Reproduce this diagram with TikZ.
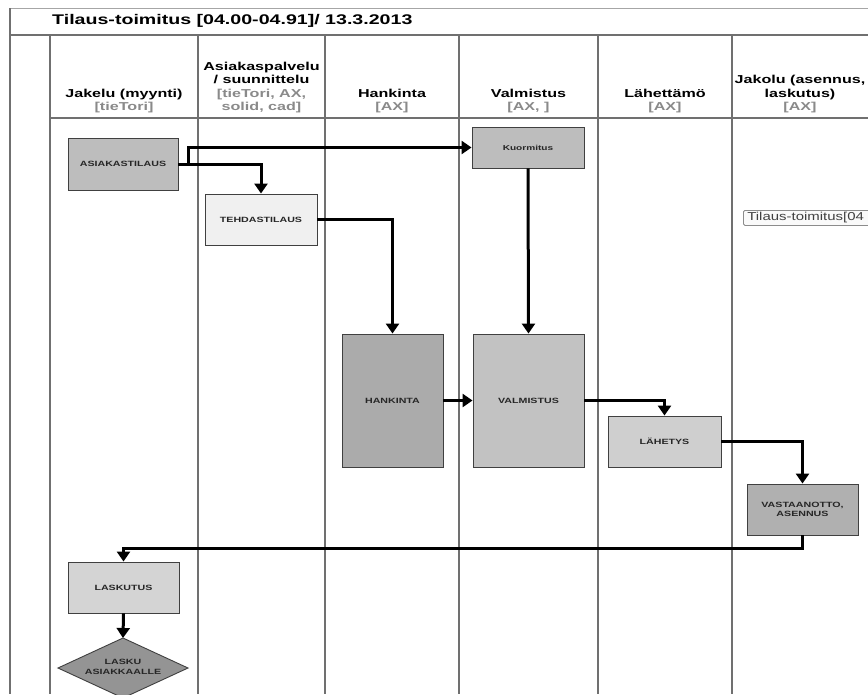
\documentclass[tikz,border=0pt]{standalone}
\usepackage{fontspec}
\setmainfont[FakeStretch=1.4]{Liberation Sans}
\newfontfamily\tipfont[FakeStretch=1.3]{Liberation Sans}
\usetikzlibrary{arrows.meta,shapes.geometric}
\definecolor{linegray}{HTML}{707070}
\definecolor{subgray}{HTML}{8A8A8A}
\begin{document}
\begin{tikzpicture}[x=1pt,y=-1pt,
  lane/.style={draw=linegray, line width=1.6pt},
  hdr/.style={font=\fontsize{11.5}{13.3}\selectfont\bfseries, align=center, anchor=south, inner sep=0pt},
  box/.style={draw=black!75, line width=0.9pt, font=\fontsize{7.6}{9}\selectfont\bfseries, text=black!85, align=center, inner sep=1pt},
  flow/.style={line width=3pt, -{Triangle[length=10pt,width=13pt]}}]
\useasboundingbox (0,0) rectangle (868,694);
\clip (0,0) rectangle (868,694);
\fill[white] (0,0) rectangle (868,694);
% frame
\draw[draw=black!35, line width=1pt] (10,8) -- (868,8);
\draw[lane] (10,35) -- (868,35);
\draw[lane] (10,8) -- (10,694);
\draw[lane] (50,118) -- (868,118);
\foreach \x in {50,198,325,459,598,732} \draw[lane] (\x,35) -- (\x,694);
% title
\node[anchor=west, font=\fontsize{14}{16}\selectfont\bfseries, inner sep=0pt] (title) at (52,20.5) {Tilaus-toimitus [04.00-04.91]/ 13.3.2013};
% headers
\node[hdr] (h1) at (124,113) {Jakelu (myynti)\\\textcolor{subgray}{[tieTori]}};
\node[hdr] (h2) at (261.5,113) {Asiakaspalvelu\\/ suunnittelu\\\textcolor{subgray}{[tieTori, AX,}\\\textcolor{subgray}{solid, cad]}};
\node[hdr] (h3) at (392,113) {Hankinta\\\textcolor{subgray}{[AX]}};
\node[hdr] (h4) at (528.5,113) {Valmistus\\\textcolor{subgray}{[AX, ]}};
\node[hdr] (h5) at (665,113) {Lähettämö\\\textcolor{subgray}{[AX]}};
\node[hdr] (h6) at (800,113) {Jakolu (asennus,\\laskutus)\\\textcolor{subgray}{[AX]}};
% process boxes
\node[box, fill=black!26, minimum width=110pt, minimum height=52pt] (asia) at (123,164) {ASIAKASTILAUS};
\node[box, fill=black!6, minimum width=112pt, minimum height=51pt] (teh) at (261,219.5) {TEHDASTILAUS};
\node[box, fill=black!26, minimum width=112pt, minimum height=41pt, font=\fontsize{7.2}{9}\selectfont\bfseries] (kuor) at (528,147.5) {Kuormitus};
\node[box, fill=black!33, minimum width=101pt, minimum height=133pt] (hank) at (392.5,400.5) {HANKINTA};
\node[box, fill=black!24, minimum width=111pt, minimum height=133pt] (valm) at (528.5,400.5) {VALMISTUS};
\node[box, fill=black!19, minimum width=113pt, minimum height=51pt] (lah) at (664.5,441.5) {LÄHETYS};
\node[box, fill=black!31, minimum width=111pt, minimum height=51pt] (vast) at (802.5,509.5) {VASTAANOTTO,\\ASENNUS};
\node[box, fill=black!17, minimum width=111pt, minimum height=51pt] (lask) at (123.5,587.5) {LASKUTUS};
% decision diamond
\coordinate (diaN) at (123,638);
\coordinate (diaE) at (188,668);
\coordinate (diaS) at (123,698);
\coordinate (diaW) at (58,668);
\draw[draw=black!75, line width=0.9pt, fill=black!42] (diaN) -- (diaE) -- (diaS) -- (diaW) -- cycle;
\node[font=\fontsize{7.6}{10}\selectfont\bfseries, text=black!85, align=center, inner sep=0pt] (dia) at (123,667) {LASKU\\ASIAKKAALLE};
% tooltip
\node[draw=black!45, fill=black!2, rounded corners=1.5pt, line width=0.8pt, anchor=north west, font=\tipfont\fontsize{11.5}{13}\selectfont, text=black!75, minimum width=140pt, minimum height=15pt, inner sep=0.8pt, align=left, text width=136pt] (tip) at (743,210) {\,Tilaus-toimitus[04};
% connectors
\draw[flow] (asia.east) -- ++(10,0) |- (kuor.west);
\draw[flow] (asia.east) -| (teh.north);
\draw[flow] (teh.east) -| (hank.north);
\draw[flow] (kuor.south) -- (valm.north);
\draw[flow] (hank.east) -- (valm.west);
\draw[flow] (valm.east) -| (lah.north);
\draw[flow] (lah.east) -| (vast.north);
\draw[flow] (vast.south) -- ++(0,13) -| (lask.north);
\draw[flow] (lask.south) -- (diaN);
\end{tikzpicture}
\end{document}
